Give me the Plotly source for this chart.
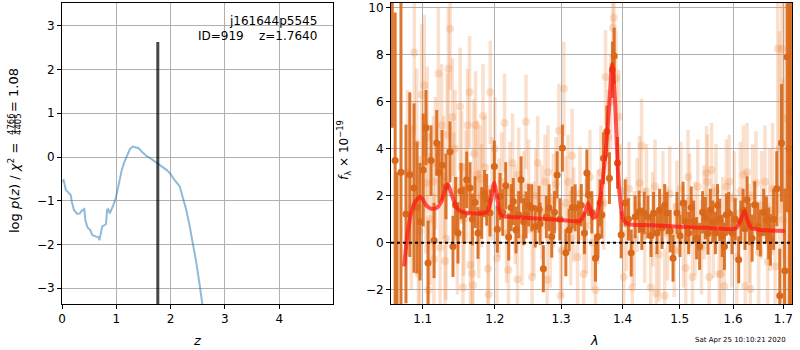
import plotly.graph_objects as go

# ---------------- left panel: log p(z) ----------------
pz_z = [0.00, 0.03, 0.07, 0.12, 0.16, 0.18, 0.22, 0.28, 0.33, 0.36, 0.41, 0.43, 0.47, 0.52,
        0.56, 0.63, 0.67, 0.69, 0.71, 0.74, 0.79, 0.81, 0.83, 0.85, 0.88, 0.91, 0.945, 0.99,
        1.02, 1.06, 1.10, 1.14, 1.19, 1.25, 1.30, 1.34, 1.41, 1.47, 1.56, 1.65, 1.74, 1.84,
        1.93, 2.00, 2.05, 2.11, 2.17, 2.22, 2.28, 2.34, 2.41, 2.47, 2.53, 2.58, 2.61]
pz_logp = [-0.56, -0.53, -0.75, -0.83, -0.87, -1.02, -1.21, -1.30, -1.29, -1.23, -1.19, -1.44,
           -1.61, -1.67, -1.79, -1.82, -1.83, -1.90, -1.74, -1.59, -1.55, -1.53, -1.21, -1.19,
           -1.29, -1.21, -1.10, -0.94, -0.75, -0.53, -0.30, -0.14, 0.01, 0.18, 0.24, 0.22,
           0.20, 0.12, 0.02, -0.05, -0.14, -0.22, -0.30, -0.39, -0.49, -0.59, -0.68, -0.91,
           -1.17, -1.51, -1.97, -2.39, -2.88, -3.34, -3.60]
z_best = 1.764
z_best_top = 2.63

# ---------------- right panel: spectrum ----------------
dark_lam = [1.0603, 1.0640, 1.0665, 1.0715, 1.0780, 1.0830, 1.0885, 1.0925, 1.0964, 1.1007,
            1.1044, 1.1071, 1.1111, 1.1152, 1.1188, 1.1218, 1.1259, 1.1313, 1.1368, 1.1409,
            1.1445, 1.1478, 1.1520, 1.1560, 1.1600, 1.1646, 1.1680, 1.1717, 1.1759, 1.1811,
            1.1850, 1.1883, 1.1930, 1.1993, 1.2036, 1.2076, 1.2115, 1.2159, 1.2203, 1.2240,
            1.2271, 1.2311, 1.2350, 1.2386, 1.2425, 1.2461, 1.2500, 1.2547, 1.2600, 1.2658,
            1.2674, 1.2724, 1.2770, 1.2812, 1.2854, 1.2895, 1.2937, 1.2980, 1.3020, 1.3074,
            1.3126, 1.3175, 1.3222, 1.3275, 1.3320, 1.3371, 1.3410, 1.3436, 1.3490, 1.3550,
            1.3590, 1.3625, 1.3655, 1.3682, 1.3738, 1.3781, 1.3831, 1.3860, 1.3915, 1.3977,
            1.4045, 1.4100, 1.4147, 1.4215, 1.4284, 1.4330, 1.4371, 1.4436, 1.4490, 1.4534,
            1.4595, 1.4640, 1.4683, 1.4730, 1.4772, 1.4830, 1.4880, 1.4952, 1.5005, 1.5061,
            1.5110, 1.5163, 1.5210, 1.5255, 1.5310, 1.5366, 1.5420, 1.5472, 1.5520, 1.5566,
            1.5610, 1.5660, 1.5700, 1.5742, 1.5790, 1.5832, 1.5870, 1.5914, 1.5979, 1.6040,
            1.6107, 1.6150, 1.6193, 1.6230, 1.6271, 1.6320, 1.6370, 1.6421, 1.6480, 1.6534,
            1.6600, 1.6655, 1.6700, 1.6736, 1.6800, 1.6864, 1.6926, 1.6961, 1.7029, 1.7078,
            1.7120, 1.7150]
dark_flux = [10.5, 3.5, -3.0, 3.0, 1.23, 2.9, 2.33, 1.5, 0.9, 3.1,
             4.9, -0.86, 3.5, 0.1, 4.25, 3.0, 3.3, 2.4, 3.87, -0.15,
             1.6, 0.42, 2.2, 1.2, 2.68, 2.33, 1.0, 1.73, 0.42, 1.27,
             2.1, 1.83, 1.27, 3.25, 0.58, 1.97, 1.3, 2.43, 0.25, 1.5,
             1.76, 0.55, 1.2, 2.68, 0.9, 1.19, 1.6, 1.49, 0.7, 1.43,
             0.81, -1.1, 1.1, 1.49, 0.27, 1.3, 2.89, 1.0, 4.03, -0.42,
             0.55, 1.5, 1.49, 0.9, 1.6, 0.42, 2.97, 2.04, 1.3, -0.65,
             0.27, 1.7, 1.19, 3.6, 4.74, 2.75, 7.36, 7.95, 3.4, 0.34,
             1.7, 1.0, -0.43, 1.1, 1.32, 0.6, 1.27, 1.1, 0.3, 1.27,
             0.42, 1.4, 0.64, 1.6, 1.27, 0.5, -0.65, 1.27, 0.3, 1.7,
             0.9, 0.42, 1.5, 0.9, 0.2, -0.15, 1.3, 1.05, 0.4, 1.4,
             0.9, 0.42, 1.6, 0.98, 0.3, -0.15, 1.2, 1.27, 0.42, 1.0,
             -0.72, 0.9, 1.4, 0.6, 1.83, 0.8, 0.2, 1.62, 0.7, 0.42,
             1.3, 0.98, 0.4, 0.13, 1.0, 2.3, -2.25, 4.25, -1.19, 7.9,
             4.0, 3.0]
dark_err = [5.6, 6.3, 6.0, 9.0, 3.8, 3.5, 3.6, 2.8, 2.5, 2.4,
            1.6, 1.8, 1.5, 1.6, 1.4, 1.3, 1.5, 1.4, 1.3, 1.3,
            1.2, 1.3, 1.2, 1.2, 1.2, 1.1, 1.1, 1.1, 1.1, 1.1,
            1.0, 1.1, 1.0, 1.1, 1.0, 1.0, 1.0, 1.0, 1.0, 1.0,
            1.0, 1.0, 1.0, 1.0, 1.0, 1.0, 0.9, 1.0, 0.9, 1.0,
            0.9, 1.0, 0.9, 1.0, 0.9, 0.9, 1.0, 0.9, 1.0, 1.0,
            0.9, 0.9, 1.0, 0.9, 0.9, 0.9, 1.0, 0.9, 0.9, 1.0,
            0.9, 1.0, 1.0, 1.1, 1.1, 1.1, 1.2, 1.2, 1.1, 1.0,
            1.0, 0.9, 1.0, 0.9, 0.9, 0.9, 0.9, 0.9, 0.9, 0.9,
            0.9, 0.9, 0.9, 0.9, 0.9, 0.9, 1.0, 0.9, 0.9, 0.9,
            0.9, 0.9, 0.9, 0.9, 0.9, 1.0, 0.9, 0.9, 0.9, 0.9,
            0.9, 0.9, 0.9, 0.9, 0.9, 1.0, 0.9, 0.9, 0.9, 0.9,
            1.0, 0.9, 0.9, 0.9, 1.0, 0.9, 1.0, 1.0, 1.0, 1.0,
            1.0, 1.0, 1.1, 1.1, 1.3, 1.6, 2.0, 2.5, 3.5, 6.6,
            12.0, 12.0]

light_lam = [1.0800, 1.0850, 1.0889, 1.0920, 1.0942, 1.0960, 1.0986, 1.1020, 1.1043, 1.1060,
             1.1077, 1.1100, 1.1143, 1.1150, 1.1170, 1.1210, 1.1233, 1.1255, 1.1280, 1.1300,
             1.1313, 1.1330, 1.1346, 1.1370, 1.1402, 1.1420, 1.1438, 1.1470, 1.1509, 1.1530,
             1.1547, 1.1560, 1.1590, 1.1612, 1.1640, 1.1650, 1.1677, 1.1687, 1.1700, 1.1724,
             1.1752, 1.1770, 1.1791, 1.1810, 1.1830, 1.1860, 1.1900, 1.1909, 1.1934, 1.1960,
             1.2000, 1.2031, 1.2060, 1.2100, 1.2141, 1.2170, 1.2199, 1.2220, 1.2260, 1.2300,
             1.2333, 1.2350, 1.2400, 1.2430, 1.2460, 1.2500, 1.2552, 1.2580, 1.2610, 1.2637,
             1.2700, 1.2750, 1.2782, 1.2797, 1.2830, 1.2880, 1.2920, 1.2965, 1.2992, 1.3010,
             1.3043, 1.3070, 1.3110, 1.3150, 1.3174, 1.3200, 1.3260, 1.3300, 1.3360, 1.3400,
             1.3460, 1.3500, 1.3551, 1.3590, 1.3640, 1.3688, 1.3716, 1.3760, 1.3800, 1.3838,
             1.3855, 1.3890, 1.3937, 1.3970, 1.4021, 1.4070, 1.4110, 1.4166, 1.4200, 1.4250,
             1.4290, 1.4325, 1.4380, 1.4410, 1.4484, 1.4520, 1.4560, 1.4584, 1.4630, 1.4700,
             1.4731, 1.4780, 1.4820, 1.4900, 1.4950, 1.5020, 1.5070, 1.5110, 1.5152, 1.5180,
             1.5233, 1.5280, 1.5330, 1.5400, 1.5450, 1.5494, 1.5510, 1.5543, 1.5588, 1.5620,
             1.5670, 1.5732, 1.5764, 1.5800, 1.5828, 1.5870, 1.5924, 1.5970, 1.6020, 1.6070,
             1.6140, 1.6200, 1.6236, 1.6270, 1.6310, 1.6335, 1.6380, 1.6448, 1.6500, 1.6560,
             1.6628, 1.6680, 1.6720, 1.6780, 1.6830, 1.6884, 1.6920, 1.6966, 1.6990, 1.7019]
light_flux = [3.0, 1.5, 8.1, 4.2, -1.3, 0.5, 6.3, 6.7, 2.55, 4.5,
              -2.0, 1.0, 2.6, -0.7, 3.4, 7.2, -0.2, 5.0, 2.8, -0.77,
              0.17, 4.6, 7.4, 9.1, 5.35, 2.2, 4.0, 0.3, 5.8, 3.2,
              -1.9, 1.0, 2.4, 5.0, 6.4, -0.94, -1.3, -1.8, 3.8, 5.0,
              2.9, 0.8, 2.7, 2.0, 5.4, 3.2, -1.1, -2.2, 6.4, 2.3,
              4.0, -0.65, 1.5, 2.6, 5.1, 0.4, -1.15, 2.2, 3.4, 1.2,
              -1.55, 2.9, 0.2, 1.9, 5.15, 2.4, -1.45, 0.6, 2.0, 3.4,
              1.3, 2.6, -1.57, 3.0, 0.1, 1.8, 2.5, 4.77, -2.25, -0.3,
              6.55, 1.7, 2.6, 0.2, 3.7, 1.2, -0.6, 2.1, -1.32, 0.7,
              2.8, 0.0, -2.0, 1.1, 3.0, 1.7, 7.05, 4.5, 6.0, 9.15,
              9.57, 7.0, 5.36, 2.2, -1.45, 0.8, 2.3, -1.9, 0.2, 1.6,
              2.55, 4.13, 0.3, 2.2, -1.9, 1.0, 2.4, -2.15, -0.5, 1.9,
              -2.25, 0.4, 2.1, -0.3, 1.5, 2.3, 0.1, -1.07, 2.8, 1.8,
              -1.45, 0.6, 2.4, -0.2, 1.3, 2.97, 2.6, -1.45, 3.1, 0.5,
              2.2, -1.32, -1.32, 0.8, -1.83, 2.4, 2.6, 0.1, 1.9, -0.6,
              2.2, 2.9, -1.83, 3.0, 0.4, -1.96, 2.0, 2.55, -0.4, 1.6,
              2.6, -0.8, 1.4, 2.3, -1.0, 8.25, 4.0, 8.25, 1.0, 5.3]
light_err = [3.5, 3.5, 3.5, 3.2, 3.2, 3.2, 3.0, 3.0, 3.0, 3.0,
             3.0, 2.8, 2.8, 2.8, 2.8, 2.8, 2.6, 2.6, 2.6, 2.6,
             2.6, 2.6, 2.6, 2.6, 2.5, 2.5, 2.5, 2.5, 2.5, 2.4,
             2.4, 2.4, 2.4, 2.4, 2.4, 2.4, 2.3, 2.3, 2.3, 2.3,
             2.3, 2.3, 2.3, 2.2, 2.2, 2.2, 2.2, 2.2, 2.2, 2.2,
             2.2, 2.1, 2.1, 2.1, 2.1, 2.1, 2.1, 2.1, 2.1, 2.1,
             2.0, 2.0, 2.0, 2.0, 2.0, 2.0, 2.0, 2.0, 2.0, 2.0,
             2.0, 2.0, 2.0, 2.0, 2.0, 2.0, 2.0, 2.0, 2.0, 2.0,
             2.0, 2.0, 2.0, 2.0, 2.0, 2.0, 2.0, 2.0, 2.0, 2.0,
             2.0, 2.0, 2.0, 2.0, 2.0, 2.0, 2.0, 2.0, 2.0, 2.0,
             2.0, 2.0, 2.0, 2.0, 2.0, 2.0, 2.0, 2.0, 2.0, 2.0,
             2.0, 2.0, 2.0, 2.0, 2.0, 2.0, 2.0, 2.0, 2.0, 2.0,
             2.0, 2.0, 2.0, 2.0, 2.0, 2.0, 2.0, 2.0, 2.0, 2.0,
             2.0, 2.0, 2.0, 2.0, 2.0, 2.0, 2.0, 2.0, 2.0, 2.0,
             2.0, 2.0, 2.0, 2.0, 2.0, 2.0, 2.0, 2.0, 2.0, 2.0,
             2.1, 2.1, 2.1, 2.1, 2.1, 2.1, 2.2, 2.2, 2.2, 2.3,
             2.4, 2.5, 2.6, 2.8, 3.2, 7.0, 5.0, 7.0, 6.0, 6.0]

model_lam = [1.0755, 1.0780, 1.0810, 1.0850, 1.0900, 1.0965, 1.1000, 1.1050, 1.1100, 1.1150,
             1.1200, 1.1250, 1.1300, 1.1340, 1.1380, 1.1450, 1.1500, 1.1600, 1.1700, 1.1800,
             1.1880, 1.1940, 1.1990, 1.2030, 1.2070, 1.2100, 1.2500, 1.3000, 1.3300, 1.3380,
             1.3430, 1.3470, 1.3510, 1.3560, 1.3620, 1.3700, 1.3770, 1.3826, 1.3870, 1.3920,
             1.3970, 1.4020, 1.4100, 1.4500, 1.5000, 1.5500, 1.6050, 1.6150, 1.6220, 1.6280,
             1.6350, 1.6500, 1.7030]
model_flux = [-1.0, -0.2, 0.6, 1.3, 1.75, 1.96, 1.85, 1.58, 1.47, 1.45,
              1.52, 1.75, 2.25, 2.5, 2.15, 1.55, 1.37, 1.27, 1.25, 1.25,
              1.3, 1.75, 2.55, 2.0, 1.3, 1.15, 1.06, 0.97, 0.93, 1.3,
              1.7, 1.4, 1.06, 1.15, 1.8, 3.4, 5.6, 7.6, 6.2, 3.2,
              1.6, 0.95, 0.8, 0.75, 0.68, 0.64, 0.61, 1.0, 1.37, 0.95,
              0.63, 0.56, 0.50]

x_ticks = [1.1, 1.2, 1.3, 1.4, 1.5, 1.6, 1.7]
x_ticklabels = ["1.1", "1.2", "1.3", "1.4", "1.5", "1.6", "1.7"]

DARK = "rgb(217,104,26)"
LIGHT = "rgba(235,140,70,0.27)"
FONT = "DejaVu Sans"

fig = go.Figure()

# left panel
fig.add_trace(go.Scatter(x=pz_z, y=pz_logp, mode="lines",
                         line=dict(color="rgba(31,119,180,0.5)", width=2),
                         xaxis="x", yaxis="y", showlegend=False, hoverinfo="skip"))
fig.add_trace(go.Scatter(x=[z_best, z_best], y=[-10, z_best_top], mode="lines",
                         line=dict(color="rgba(0,0,0,0.72)", width=3),
                         xaxis="x", yaxis="y", showlegend=False, hoverinfo="skip"))

# right panel
fig.add_trace(go.Scatter(x=light_lam, y=light_flux, mode="markers",
                         marker=dict(color=LIGHT, size=8, line=dict(width=0)),
                         error_y=dict(type="data", array=light_err, color=LIGHT,
                                      thickness=3.5, width=0),
                         xaxis="x2", yaxis="y2", showlegend=False, hoverinfo="skip"))
fig.add_trace(go.Scatter(x=dark_lam, y=dark_flux, mode="markers",
                         marker=dict(color=DARK, size=7, line=dict(width=0)),
                         error_y=dict(type="data", array=dark_err, color="rgba(217,104,26,0.9)",
                                      thickness=3, width=0),
                         xaxis="x2", yaxis="y2", showlegend=False, hoverinfo="skip"))
fig.add_trace(go.Scatter(x=model_lam, y=model_flux, mode="lines",
                         line=dict(color="rgba(255,20,20,0.7)", width=4, shape="spline",
                                   smoothing=0.6),
                         xaxis="x2", yaxis="y2", showlegend=False, hoverinfo="skip"))
fig.add_trace(go.Scatter(x=[1.0587, 1.7177], y=[0, 0], mode="lines",
                         line=dict(color="black", width=2, dash="dot"),
                         xaxis="x2", yaxis="y2", showlegend=False, hoverinfo="skip"))

axis_common = dict(showgrid=True, gridcolor="#b0b0b0", gridwidth=1, showline=True,
                   linecolor="black", linewidth=1, mirror=True, ticks="outside",
                   ticklen=4, tickcolor="black", zeroline=False,
                   tickfont=dict(family=FONT, size=12, color="black"))

fig.update_layout(
    width=800, height=350,
    margin=dict(l=0, r=0, t=0, b=0, autoexpand=False),
    paper_bgcolor="white", plot_bgcolor="white",
    font=dict(family=FONT, size=12, color="black"),
    hovermode=False,
    xaxis=dict(domain=[62 / 800, 333 / 800], range=[0, 4.99], dtick=1, tick0=0,
               anchor="y", **axis_common),
    yaxis=dict(domain=[1 - 304 / 350, 1 - 3 / 350], range=[-3.36, 3.52], dtick=1,
               anchor="x", **axis_common),
    xaxis2=dict(domain=[391 / 800, 792 / 800], type="log",
                range=[0.02477, 0.23496], tickvals=x_ticks, ticktext=x_ticklabels,
                anchor="y2", **axis_common),
    yaxis2=dict(domain=[1 - 304 / 350, 1 - 3 / 350], range=[-2.6, 10.2], dtick=2,
                anchor="x2", **axis_common),
)

ann = []
ann.append(dict(text="j161644p5545", x=319 / 800, y=1 - 20.5 / 350, xref="paper",
                yref="paper", xanchor="right", yanchor="middle", showarrow=False,
                font=dict(family=FONT, size=12)))
ann.append(dict(text="ID=919\u00a0\u00a0\u00a0\u00a0z=1.7640", x=319 / 800, y=1 - 35.5 / 350,
                xref="paper", yref="paper", xanchor="right", yanchor="middle",
                showarrow=False, font=dict(family=FONT, size=12)))
ann.append(dict(text="<i>z</i>", x=197 / 800, y=1 - 340 / 350, xref="paper", yref="paper",
                xanchor="center", yanchor="middle", showarrow=False,
                font=dict(family=FONT, size=13)))
ann.append(dict(text="<i>λ</i>", x=594 / 800, y=1 - 340 / 350, xref="paper", yref="paper",
                xanchor="center", yanchor="middle", showarrow=False,
                font=dict(family=FONT, size=13)))
ann.append(dict(text="Sat Apr 25 10:10:21 2020", x=788 / 800, y=1 - 339.5 / 350,
                xref="paper", yref="paper", xanchor="right", yanchor="middle",
                showarrow=False, font=dict(family=FONT, size=7)))
# left y label, pieced together to mimic a stacked fraction
ann.append(dict(text="log <i>p</i>(<i>z</i>) / <i>χ</i><sup>2</sup> =", x=14 / 800,
                y=1 - 188 / 350, xref="paper", yref="paper", xanchor="center",
                yanchor="middle", textangle=-90, showarrow=False,
                font=dict(family=FONT, size=13)))
ann.append(dict(text="4766", x=11.5 / 800, y=1 - 124.5 / 350, xref="paper", yref="paper",
                xanchor="center", yanchor="middle", textangle=-90, showarrow=False,
                font=dict(family=FONT, size=8.5)))
ann.append(dict(text="4405", x=18.5 / 800, y=1 - 124.5 / 350, xref="paper", yref="paper",
                xanchor="center", yanchor="middle", textangle=-90, showarrow=False,
                font=dict(family=FONT, size=8.5)))
ann.append(dict(text="= 1.08", x=14 / 800, y=1 - 90 / 350, xref="paper", yref="paper",
                xanchor="center", yanchor="middle", textangle=-90, showarrow=False,
                font=dict(family=FONT, size=13)))
ann.append(dict(text="<i>f</i><sub>λ</sub> × 10<sup>−19</sup>", x=344 / 800, y=1 - 150 / 350,
                xref="paper", yref="paper", xanchor="center", yanchor="middle",
                textangle=-90, showarrow=False, font=dict(family=FONT, size=12)))
fig.update_layout(annotations=ann)

fig.add_shape(type="line", xref="paper", yref="paper", x0=15 / 800, x1=15 / 800,
              y0=1 - 115 / 350, y1=1 - 134 / 350, line=dict(color="black", width=0.8))

fig.write_html("out.html", config={"displayModeBar": False, "staticPlot": True},
               post_script="document.body.style.margin='0';document.body.style.padding='0';")
